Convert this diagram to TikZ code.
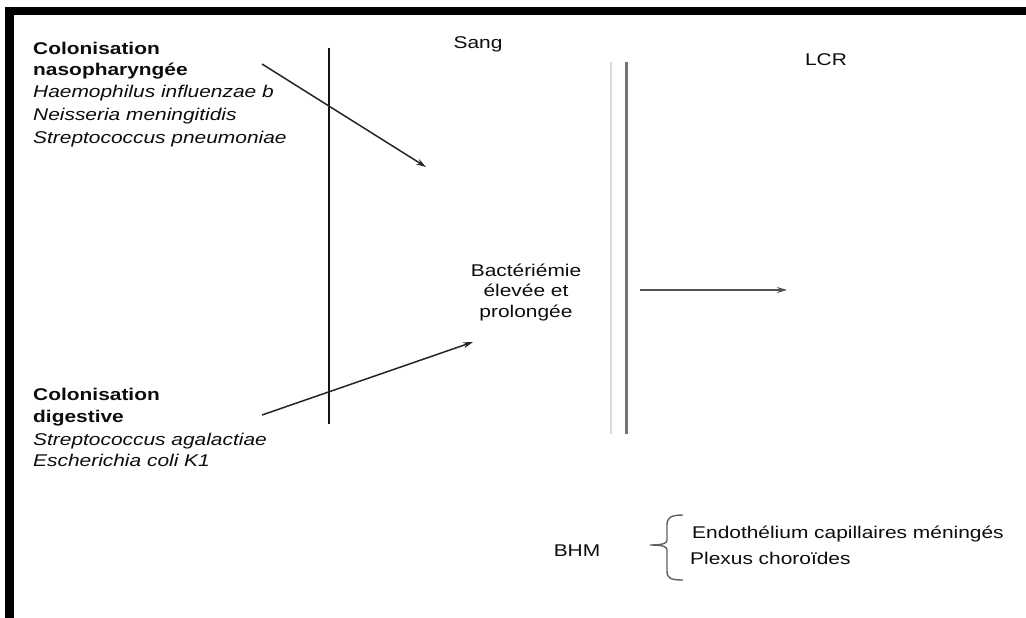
\documentclass[tikz,border=0pt]{standalone}
\usepackage{fontspec}
\setmainfont{Liberation Sans}[FakeStretch=1.23]
\usetikzlibrary{arrows.meta}

\begin{document}
\begin{tikzpicture}[x=1pt,y=-1pt,
  txt/.style={inner sep=0pt, anchor=base west, text=black!95,
              font=\fontsize{17}{22}\selectfont},
  ctxt/.style={txt, anchor=base},
  hd/.style={txt, font=\fontsize{17}{22}\selectfont\bfseries},
  sp/.style={txt, font=\fontsize{17}{22}\selectfont\itshape},
  arr/.style={draw=black!85, line width=1.5pt,
              -{Stealth[length=10pt,width=6pt]}},
  garr/.style={arr, draw=black!68},
]
% canvas
\useasboundingbox (0,0) rectangle (1026,618);
\fill[white] (0,0) rectangle (1026,618);
% frame bands (top and left)
\fill[black] (5,7) rectangle (1026,15);
\fill[black] (5,7) rectangle (14,618);

% barriers
\draw[black!92, line width=2pt] (329,48) -- (329,424);
\draw[black!14, line width=2pt] (611,62) -- (611,434);
\draw[black!55, line width=3pt] (626,62) -- (626,434);

% compartment titles
\node[ctxt] (sang) at (478,49) {Sang};
\node[ctxt] (lcr) at (826,66) {LCR};

% nasopharyngeal colonisation
\node[hd] (n1) at (33,55) {Colonisation};
\node[hd] (n2) at (33,76) {nasopharyngée};
\node[sp] (n3) at (33,98) {Haemophilus influenzae b};
\node[sp] (n4) at (33,121) {Neisseria meningitidis};
\node[sp] (n5) at (33,143) {Streptococcus pneumoniae};

% digestive colonisation
\node[hd] (d1) at (33,400) {Colonisation};
\node[hd] (d2) at (33,422) {digestive};
\node[sp] (d3) at (33,445) {Streptococcus agalactiae};
\node[sp] (d4) at (33,466) {Escherichia coli K1};

% bacteraemia
\node[ctxt] (b1) at (526,276) {Bactériémie};
\node[ctxt] (b2) at (526,296) {élevée et};
\node[ctxt] (b3) at (526,317) {prolongée};

% arrows
\coordinate (a1s) at (262,64);
\coordinate (a1e) at (426,167);
\coordinate (a2s) at (262,415);
\coordinate (a2e) at (473,342);
\coordinate (a3s) at (640,290);
\coordinate (a3e) at (787,290);
\draw[arr] (a1s) -- (a1e);
\draw[arr] (a2s) -- (a2e);
\draw[garr] (a3s) -- (a3e);

% blood-meningeal barrier
\node[ctxt] (bhm) at (577,556) {BHM};
\node[txt] (e1) at (692,538) {Endothélium capillaires méningés};
\node[txt] (e2) at (690,564) {Plexus choroïdes};
\draw[black!62, line width=1.4pt]
  (683,515) .. controls (670,515) and (667,518) .. (667,525)
  -- (667,540) .. controls (667,543) and (664,545) .. (650,545)
  .. controls (664,545) and (667,547) .. (667,550)
  -- (667,571) .. controls (667,578) and (670,580) .. (683,580);
\end{tikzpicture}
\end{document}
